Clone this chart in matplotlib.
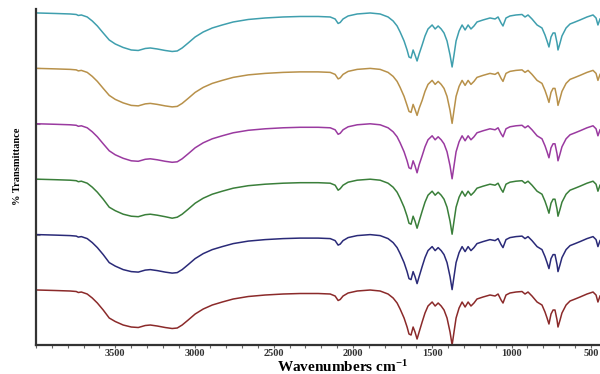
import matplotlib
matplotlib.use("Agg")
import matplotlib.pyplot as plt
from matplotlib.ticker import MultipleLocator

plt.rcParams["mathtext.fontset"] = "custom"
plt.rcParams["mathtext.rm"] = "Liberation Serif:bold"
plt.rcParams["mathtext.bf"] = "Liberation Serif:bold"
plt.rcParams["mathtext.default"] = "bf"

# Wavenumbers (cm-1) at which the spectra were read
wavenumber = [3990, 3878, 3784, 3746, 3733, 3714, 3677, 3645, 3613, 3576,
              3538, 3500, 3450, 3399, 3355, 3311, 3279, 3235, 3185, 3141,
              3109, 3078, 3040, 2996, 2945, 2888, 2825, 2756, 2661, 2554,
              2441, 2334, 2220, 2144, 2113, 2094, 2081, 2063, 2031, 1974,
              1892, 1829, 1779, 1747, 1722, 1703, 1678, 1659, 1647, 1634,
              1621, 1609, 1596, 1583, 1564, 1546, 1527, 1501, 1482, 1463,
              1444, 1426, 1407, 1388, 1375, 1363, 1350, 1331, 1312, 1293,
              1274, 1256, 1237, 1218, 1180, 1136, 1104, 1085, 1066, 1054,
              1035, 1010, 972, 934, 915, 896, 871, 839, 808, 789,
              776, 764, 751, 738, 726, 713, 707, 694, 682, 656,
              631, 599, 568, 524, 486, 467, 455, 442]

# % Transmittance of each sample (top to bottom in the figure)
sample_1 = [100, 99.5, 99, 98.5, 97.5, 98, 96, 92, 87, 80,
            73, 69, 65.5, 63, 62.5, 64.5, 65, 64, 62.5, 61.5,
            62, 65, 70, 76, 81, 85, 88, 91, 93.5, 95,
            96, 96.5, 96.5, 96, 94, 89.5, 90.5, 94, 97, 99,
            100, 99, 96, 92, 87, 81, 72, 63, 56, 55,
            63, 58, 52, 59, 68, 77, 84, 88, 84, 87,
            84, 80, 72, 58, 46, 58, 72, 82, 88, 83,
            88, 84, 87, 91, 93, 95, 94, 96, 90, 87,
            95, 97, 98, 98.5, 96, 98, 94, 88, 85, 78,
            72, 66, 76, 80, 80, 70, 63, 70, 77, 85,
            89, 91, 93, 96, 98, 95, 88, 94]
sample_2 = [100, 99.5, 99, 98.5, 97.5, 98, 96, 92, 87, 80,
            73, 69, 65.5, 63, 62.5, 64.5, 65, 64, 62.5, 61.5,
            62, 65, 70, 76, 81, 85, 88, 91, 93.5, 95,
            96, 96.5, 96.5, 96, 94, 89.5, 90.5, 94, 97, 99,
            100, 99, 96, 92, 87, 81, 72, 63, 57, 56,
            64, 59, 53, 60, 68, 77, 84, 88, 84, 87,
            84, 80, 72, 58, 45, 58, 72, 82, 88, 83,
            88, 84, 87, 91, 93, 95, 94, 96, 90, 87,
            95, 97, 98, 98.5, 96, 98, 94, 88, 85, 78,
            72, 66, 76, 80, 80, 70, 63, 70, 77, 85,
            89, 91, 93, 96, 98, 95, 88, 94]
sample_3 = [100, 99.5, 99, 98.5, 97.5, 98, 96, 92, 87, 80,
            73, 69, 65.5, 63, 62.5, 64.5, 65, 64, 62.5, 61.5,
            62, 65, 70, 76, 81, 85, 88, 91, 93.5, 95,
            96, 96.5, 96.5, 96, 94, 89.5, 90.5, 94, 97, 99,
            100, 99, 96, 92, 87, 81, 72, 63, 56, 55,
            63, 58, 51, 59, 68, 77, 84, 88, 84, 87,
            84, 80, 72, 58, 45, 58, 72, 82, 88, 83,
            88, 84, 87, 91, 93, 95, 94, 96, 90, 87,
            95, 97, 98, 98.5, 96, 98, 94, 88, 85, 78,
            72, 66, 76, 80, 80, 70, 63, 70, 77, 85,
            89, 91, 93, 96, 98, 95, 88, 94]
sample_4 = [100, 99.5, 99, 98.5, 97.5, 98, 96, 92, 87, 80,
            72, 68.5, 65, 63, 62.5, 64.5, 65, 64, 62.5, 61,
            62, 65, 70, 76, 81, 85, 88, 91, 93.5, 95,
            96, 96.5, 96.5, 96, 94, 89, 90.5, 94, 97, 99,
            100, 99, 96, 92, 87, 81, 72, 63, 56, 55,
            63, 58, 51, 58, 68, 77, 84, 88, 84, 87,
            84, 80, 72, 58, 45, 58, 72, 82, 88, 83,
            88, 84, 87, 91, 93, 95, 94, 96, 90, 87,
            95, 97, 98, 98.5, 96, 98, 94, 88, 85, 78,
            72, 66, 76, 80, 80, 70, 63, 70, 77, 85,
            89, 91, 93, 96, 98, 95, 88, 94]
sample_5 = [100, 99.5, 99, 98.5, 97.5, 98, 96, 92, 87, 80,
            72, 68.5, 65, 63, 62.5, 64.5, 65, 64, 62.5, 61.5,
            62, 65, 70, 76, 81, 85, 88, 91, 93.5, 95,
            96, 96.5, 96.5, 96, 94, 89.5, 90.5, 94, 97, 99,
            100, 99, 96, 92, 87, 81, 72, 63, 56, 55,
            63, 58, 51, 58, 68, 77, 84, 88, 84, 87,
            84, 80, 72, 58, 45, 58, 72, 82, 88, 83,
            88, 84, 87, 91, 93, 95, 94, 96, 90, 87,
            95, 97, 98, 98.5, 96, 98, 94, 88, 85, 78,
            72, 66, 76, 80, 80, 70, 63, 70, 77, 85,
            89, 91, 93, 96, 98, 95, 88, 94]
sample_6 = [100, 99.5, 99, 98.5, 97.5, 98, 96, 92, 87, 80,
            72, 68.5, 65, 63, 62.5, 64.5, 65, 64, 62.5, 61.5,
            62, 65, 70, 76, 81, 85, 88, 91, 93.5, 95,
            96, 96.5, 96.5, 96, 94, 89.5, 90.5, 94, 97, 99,
            100, 99, 96, 92, 87, 81, 72, 63, 56, 55,
            63, 58, 51, 58, 68, 77, 84, 88, 84, 87,
            84, 80, 72, 58, 45, 58, 72, 82, 88, 83,
            88, 84, 87, 91, 93, 95, 94, 96, 90, 87,
            95, 97, 98, 98.5, 96, 98, 94, 88, 85, 78,
            72, 66, 76, 80, 80, 70, 63, 70, 77, 85,
            89, 91, 93, 96, 98, 95, 88, 94]

series = [sample_1, sample_2, sample_3, sample_4, sample_5, sample_6]
colors = ["#3f9fae", "#b8914a", "#9a3aa0", "#3a7f3a", "#2a2a78", "#8b2a2a"]
offset_step = 55.4

fig = plt.figure(figsize=(6.0, 3.74), dpi=100)
ax = fig.add_axes([0.06, 0.0775, 0.94, 0.8985])

n = len(series)
baselines = []
for i, (vals, col) in enumerate(zip(series, colors)):
    off = (n - 1 - i) * offset_step
    ax.plot(wavenumber, [v + off for v in vals], color=col, lw=1.1)
    baselines.append(100 + off)

ax.set_xlim(4000, 442)
ax.set_ylim(45, 381)

for s in ["top", "right"]:
    ax.spines[s].set_visible(False)
for s in ["left", "bottom"]:
    ax.spines[s].set_color("#333333")
    ax.spines[s].set_linewidth(1.6)

ax.set_xticks([3500, 3000, 2500, 2000, 1500, 1000, 500])
ax.xaxis.set_minor_locator(MultipleLocator(100))
ax.tick_params(axis="x", which="both", length=2, width=0.8, color="#666666",
               pad=1)
for lab in ax.get_xticklabels():
    lab.set_fontfamily("Liberation Serif")
    lab.set_fontweight("bold")
    lab.set_fontsize(7.5)
    lab.set_color("#333333")

ax.set_yticks(baselines[1:-1])
ax.set_yticklabels([])
ax.tick_params(axis="y", direction="in", length=3, width=0.8, color="#888888")

fig.text(343 / 600, 1 - 367 / 374, "Wavenumbers cm$^{-1}$",
         fontfamily="Liberation Serif", fontweight="bold", fontsize=11,
         ha="center", va="center")
fig.text(18 / 600, 1 - 166 / 374, "% Transmittance", rotation=90,
         fontfamily="Liberation Serif", fontweight="bold", fontsize=7.5,
         ha="center", va="center")

fig.savefig("out.png", dpi=100)
